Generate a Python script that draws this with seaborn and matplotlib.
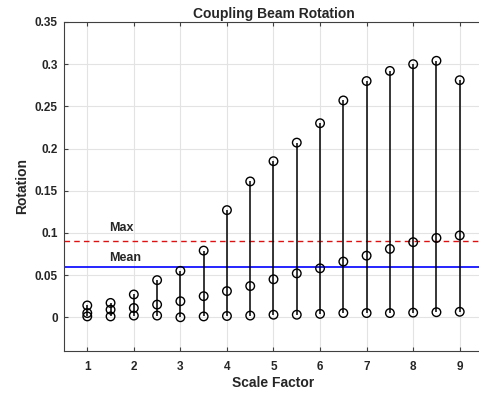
import numpy as np
import pandas as pd
import matplotlib
matplotlib.use("Agg")
import matplotlib.pyplot as plt
import seaborn as sns

scale_factor = [1, 1.5, 2, 2.5, 3, 3.5, 4, 4.5, 5, 5.5, 6, 6.5, 7, 7.5, 8, 8.5, 9]
rot_max = [0.014, 0.017, 0.027, 0.044, 0.055, 0.079, 0.127, 0.161, 0.185, 0.207, 0.230,
           0.257, 0.280, 0.292, 0.300, 0.304, 0.281]
rot_mean = [0.005, 0.009, 0.011, 0.015, 0.019, 0.025, 0.031, 0.037, 0.045, 0.052, 0.058,
            0.066, 0.073, 0.081, 0.089, 0.094, 0.097]
rot_min = [0.001, 0.001, 0.002, 0.002, 0.000, 0.001, 0.0015, 0.002, 0.003, 0.003, 0.004,
           0.005, 0.005, 0.005, 0.0055, 0.006, 0.0065]
max_level = 0.09
mean_level = 0.06
xticks = [1, 2, 3, 4, 5, 6, 7, 8, 9]
yticks = [0, 0.05, 0.1, 0.15, 0.2, 0.25, 0.3, 0.35]
ytick_labels = ["0", "0.05", "0.1", "0.15", "0.2", "0.25", "0.3", "0.35"]

sns.set_style("white")
plt.rcParams["font.family"] = ["Liberation Sans", "DejaVu Sans"]
plt.rcParams["font.weight"] = "bold"

fig = plt.figure(figsize=(4.79, 3.94), dpi=100)
ax = fig.add_axes([64 / 479, 1 - 351 / 394, (483 - 64) / 479, (351 - 22) / 394])

df = pd.DataFrame({
    "x": scale_factor * 3,
    "y": rot_max + rot_mean + rot_min,
})

ax.vlines(scale_factor, rot_min, rot_max, colors="black", linewidth=1.1, zorder=3)
sns.scatterplot(data=df, x="x", y="y", ax=ax, marker="o", s=38,
                facecolors="none", edgecolor="black", linewidth=1.0, zorder=4)

ax.axhline(max_level, color="#e01010", linestyle=(0, (4, 3)), linewidth=1.0, zorder=2)
ax.axhline(mean_level, color="#0000ff", linestyle="-", linewidth=1.2, zorder=2)
ax.text(1.46, 0.1026, "Max", fontsize=9, fontweight="bold", ha="left", va="baseline")
ax.text(1.46, 0.0671, "Mean", fontsize=9, fontweight="bold", ha="left", va="baseline")

ax.set_xlim(0.5, 9.5)
ax.set_ylim(-0.04, 0.35)
ax.set_xticks(xticks)
ax.set_xticklabels([str(t) for t in xticks])
ax.set_yticks(yticks)
ax.set_yticklabels(ytick_labels)
ax.grid(True, color="#e3e3e3", linewidth=0.8)
ax.set_axisbelow(True)

for side in ["left", "bottom", "top"]:
    ax.spines[side].set_visible(True)
    ax.spines[side].set_color("#404040")
    ax.spines[side].set_linewidth(0.8)
ax.spines["right"].set_visible(False)

ax.tick_params(axis="both", direction="in", length=3, width=0.8, color="#404040",
               labelsize=8.5, labelcolor="#262626", top=True, bottom=True, left=True)
ax.tick_params(axis="x", pad=7.5)
ax.tick_params(axis="y", pad=4.5)
for lab in ax.get_xticklabels() + ax.get_yticklabels():
    lab.set_fontweight("bold")

ax.set_xlabel("Scale Factor", fontsize=10, fontweight="bold", color="#262626", labelpad=2)
ax.set_ylabel("Rotation", fontsize=10, fontweight="bold", color="#262626", labelpad=4)
ax.set_title("Coupling Beam Rotation", fontsize=10, fontweight="bold", pad=3)

fig.savefig("out.png", dpi=100)
